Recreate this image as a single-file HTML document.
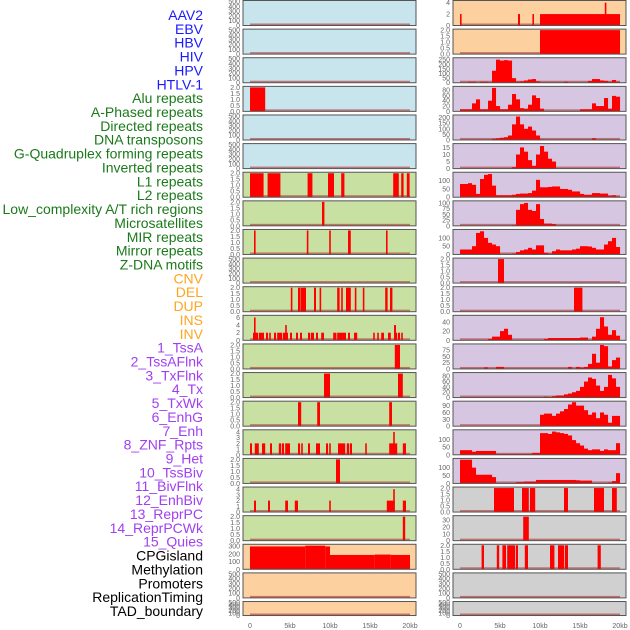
<!DOCTYPE html>
<html><head><meta charset="utf-8"><style>
html,body{margin:0;padding:0;background:#fff;}
svg{display:block;font-family:"Liberation Sans",sans-serif;}
</style></head><body>
<svg id="chart" width="630" height="630" xmlns="http://www.w3.org/2000/svg"></svg>
<script>
const trackNames = ["AAV2","EBV","HBV","HIV","HPV","HTLV-1","Alu repeats","A-Phased repeats","Directed repeats","DNA transposons","G-Quadruplex forming repeats","Inverted repeats","L1 repeats","L2 repeats","Low_complexity A/T rich regions","Microsatellites","MIR repeats","Mirror repeats","Z-DNA motifs","CNV","DEL","DUP","INS","INV","1_TssA","2_TssAFlnk","3_TxFlnk","4_Tx","5_TxWk","6_EnhG","7_Enh","8_ZNF_Rpts","9_Het","10_TssBiv","11_BivFlnk","12_EnhBiv","13_ReprPC","14_ReprPCWk","15_Quies","CPGisland","Methylation","Promoters","ReplicationTiming","TAD_boundary"];
const labelColors = ["#1a1aff","#1a1aff","#1a1aff","#1a1aff","#1a1aff","#1a1aff","#1a7a1a","#1a7a1a","#1a7a1a","#1a7a1a","#1a7a1a","#1a7a1a","#1a7a1a","#1a7a1a","#1a7a1a","#1a7a1a","#1a7a1a","#1a7a1a","#1a7a1a","#ffa520","#ffa520","#ffa520","#ffa520","#ffa520","#a040f0","#a040f0","#a040f0","#a040f0","#a040f0","#a040f0","#a040f0","#a040f0","#a040f0","#a040f0","#a040f0","#a040f0","#a040f0","#a040f0","#a040f0","#000","#000","#000","#000","#000"];
const panelBg = ["#c8e4ec","#c8e4ec","#c8e4ec","#c8e4ec","#c8e4ec","#c8e4ec","#c8e0a2","#c8e0a2","#c8e0a2","#c8e0a2","#c8e0a2","#c8e0a2","#c8e0a2","#c8e0a2","#c8e0a2","#c8e0a2","#c8e0a2","#c8e0a2","#c8e0a2","#fdd0a0","#fdd0a0","#fdd0a0","#fdd0a0","#fdd0a0","#d6c6e2","#d6c6e2","#d6c6e2","#d6c6e2","#d6c6e2","#d6c6e2","#d6c6e2","#d6c6e2","#d6c6e2","#d6c6e2","#d6c6e2","#d6c6e2","#d6c6e2","#d6c6e2","#d6c6e2","#d0d0d0","#d0d0d0","#d0d0d0","#d0d0d0","#d0d0d0"];
const T500 = [0,100,200,300,400,500];
const T2 = [0,0.5,1,1.5,2];
const yMax = [500,500,500,2,500,500,2,2,2,500,2,6.3,2,2,2,4.2,2,4.2,2,310,500,500,4.2,2,260,90,215,17,145,105,145,2,2,52,95,90,105,155,152,2,35,2,500,500];
const yTicks = [T500,T500,T500,T2,T500,T500,T2,T2,T2,T500,T2,[0,2,4,6],T2,T2,T2,[0,1,2,3,4],T2,[0,1,2,3,4],T2,[0,100,200,300],T500,T500,[0,2,4],T2,[0,50,100,150,200,250],[0,20,40,60,80],[0,50,100,150,200],[0,5,10,15],[0,50,100],[0,25,50,75,100],[0,50,100],T2,T2,[0,20,40],[0,25,50,75],[0,20,40,60,80],[0,30,60,90],[0,50,100],[0,50,100],T2,[0,10,20,30],T2,T500,T500];
// segment tracks: [startKb, endKb, value]
const segAlu = [];
const segHIV = [[0,1.9,2]];
const segAluRep = [[0,1.7,2],[2.2,3.8,2],[7.2,7.8,2],[9.75,10.5,2],[11.4,11.8,2],[17.9,18.6,2],[18.9,19.2,2],[19.6,19.95,2]];
const segAPhased = [[9.0,9.3,2]];
const segDirected = [[0.5,0.7,2],[7.1,7.3,2],[9.9,10.1,2],[12.25,12.6,2],[17,17.2,2]];
const segGQuad = [[5.1,5.3,2],[6,6.25,2],[6.3,7.0,2],[8.0,8.25,2],[8.7,8.9,2],[10.9,11.2,2],[11.4,11.6,2],[12,12.6,2],[13.1,13.3,2],[14.1,14.3,2],[16.9,17.2,2],[17.5,17.8,2]];
const segInverted = [[0.375,1.0,2],[0.5,0.7,6],[1.1,1.75,2],[2.0,2.25,2],[2.4,2.6,2],[3.0,3.25,2],[3.4,4.0,2],[4.1,4.75,2],[4.4,4.6,4],[5.0,5.25,2],[5.75,6.0,2],[6.25,6.5,2],[7.25,7.5,2],[7.6,8.0,2],[8.25,8.5,2],[8.9,9.25,2],[10.4,10.8,2],[10.9,12.0,2],[12.25,12.5,2],[13.0,13.4,2],[15.4,15.6,2],[15.9,16.1,2],[16.4,16.75,2],[17.25,17.6,2],[18,18.4,2],[18,18.25,4],[18.5,18.75,2],[18.9,19.1,2]];
const segL1 = [[18.1,18.75,2]];
const segL2 = [[9.25,10.0,2],[18.5,19.1,2]];
const segLowC = [[6.0,6.4,2],[8.4,8.75,2],[17.4,17.75,2]];
const segMicro = [[0,0.25,2],[0.6,1.1,2],[1.5,1.9,2],[2.5,2.75,2],[3.6,3.9,2],[4.0,4.25,2],[4.4,5.0,2],[6.0,6.25,2],[6.4,6.6,2],[7.25,7.5,2],[8.25,8.75,2],[9.5,9.75,2],[9.9,10.1,2],[11,11.9,2],[12.1,12.4,2],[12.5,12.75,2],[14.4,14.6,2],[17.4,18.4,2],[17.9,18.1,4],[19.1,19.5,2]];
const segMIR = [[10.75,11.25,2]];
const segMirror = [[0.5,0.75,2],[2.25,2.5,2],[4.4,4.75,2],[5.6,6.0,2],[9.9,10.1,2],[17.1,18.1,2],[17.9,18.1,4],[19.1,19.5,2]];
const segZDNA = [[19.1,19.4,2]];
const segCNV = [[0,6.9,295],[6.9,9.4,305],[9.4,10,295],[10,15.6,185],[15.6,17.6,190],[17.6,20,185]];
const segINS = [[0,0.2,2],[7.25,7.5,2],[9.05,9.25,2],[10,20,2],[18.1,18.3,4]];
const segINV = [[10,20,2]];
const segZNF = [[4.75,5.5,2]];
const segHet = [[14.25,15.3,2]];
const segCPG = [[4.25,6.75,2],[7.75,8.6,2],[8.75,9.4,2],[13,13.5,2],[16.75,18,2],[19,19.6,2]];
const segMeth = [[7.9,8.6,35]];
const segProm = [[2.7,3.0,2],[4.6,4.9,2],[5.3,5.75,2],[5.9,6.9,2],[7.0,7.25,2],[8.1,8.5,2],[11.25,11.8,2],[12.25,13.0,2],[13.1,13.5,2],[17.2,17.6,2]];
// profile tracks: values per 0.5kb bin (40 bins, 0-20kb)
const profTssA = [2,2,10,10,2,10,10,5,130,250,240,245,240,50,12,15,25,35,40,15,3,3,3,3,3,3,10,2,2,2,2,2,20,40,40,25,20,10,30,10];
const profTssAFlnk = [8,8,8,30,45,8,8,40,88,20,8,8,25,65,45,12,10,25,60,50,10,0,0,0,0,0,0,0,0,0,8,8,8,30,20,20,50,10,58,55];
const profTxFlnk = [0,0,0,0,0,0,0,0,10,15,20,25,40,140,210,140,100,120,85,40,5,0,0,0,0,0,0,0,0,0,0,0,0,15,0,0,0,0,0,0];
const profTx = [0,0,0,0,0,0,0,0,0,0,0,0,0,1,10,15,12,6,2,10,16,12,7,5,0,0,0,0,0,0,0,0,0,0,0,0,0,0,0,0];
const profTxWk = [80,80,85,75,20,110,135,140,70,12,12,12,12,15,20,22,22,25,40,105,60,60,62,65,65,50,50,45,35,35,20,15,15,25,25,22,22,10,12,5];
const profEnhG = [0,0,0,0,0,0,0,0,0,0,0,0,0,3,70,95,100,70,65,95,30,10,10,8,0,0,0,0,0,0,0,0,0,0,0,0,0,0,0,0];
const profEnh = [30,30,30,50,130,140,100,70,60,50,0,0,0,5,15,25,30,40,30,55,55,10,5,20,30,25,25,25,30,35,50,50,48,40,30,30,60,80,100,45];
const profTssBiv = [0,0,0,0,0,0,0,3,8,8,20,25,12,0,0,0,0,0,0,0,0,3,5,5,5,5,5,5,5,5,6,6,0,8,25,50,30,12,22,10];
const profBivFlnk = [0,0,0,0,0,0,6,0,0,8,8,0,0,0,0,0,0,0,0,0,0,0,0,0,0,0,0,8,0,8,5,8,20,60,25,95,90,10,35,45];
const profEnhBiv = [0,0,0,0,0,0,0,0,0,0,0,0,0,0,0,0,0,0,0,0,0,3,2,5,8,8,12,15,20,25,40,60,75,70,45,25,40,85,72,40];
const profReprPC = [0,0,0,0,0,0,0,0,0,0,0,0,0,0,0,0,0,0,0,0,50,55,55,45,55,65,75,95,105,90,90,70,50,60,35,60,50,15,45,45];
const profReprPCWk = [30,30,30,20,25,25,25,25,25,5,5,5,5,5,5,5,5,5,12,12,140,140,135,150,145,140,135,125,95,75,60,40,30,35,35,25,35,30,30,75];
const profQuies = [150,150,150,100,55,55,55,55,40,0,0,0,0,0,8,8,12,12,12,22,22,22,22,22,22,22,22,22,22,20,18,18,18,0,0,0,0,5,15,65];
const trackSegs = [segAlu,segAlu,segAlu,segHIV,segAlu,segAlu,segAluRep,segAPhased,segDirected,segAlu,segGQuad,segInverted,segL1,segL2,segLowC,segMicro,segMIR,segMirror,segZDNA,segCNV,segAlu,segAlu,segINS,segINV,null,null,null,null,null,null,null,segZNF,segHet,null,null,null,null,null,null,segCPG,segMeth,segProm,segAlu,segAlu];
const trackProfs = [null,null,null,null,null,null,null,null,null,null,null,null,null,null,null,null,null,null,null,null,null,null,null,null,profTssA,profTssAFlnk,profTxFlnk,profTx,profTxWk,profEnhG,profEnh,null,null,profTssBiv,profBivFlnk,profEnhBiv,profReprPC,profReprPCWk,profQuies,null,null,null,null,null];
const xTickVals = [0,5,10,15,20];
const xTickLabels = ["0","5kb","10kb","15kb","20kb"];

const NS = "http://www.w3.org/2000/svg";
const svg = document.getElementById("chart");
function mk(tag, attrs, parent) {
  const e = document.createElementNS(NS, tag);
  for (const k in attrs) e.setAttribute(k, attrs[k]);
  (parent || svg).appendChild(e);
  return e;
}
function slug(s){return s.toLowerCase().replace(/[^a-z0-9]+/g,"-").replace(/^-|-$/g,"");}

// labels
trackNames.forEach((n, k) => {
  const t = mk("text", {x: 203, y: 15 + k * 13.86 + 5, "text-anchor": "end", "font-size": 14, fill: labelColors[k]});
  t.textContent = n;
  
  
});

function panelGeom(k) {
  const col = k < 22 ? 0 : 1;
  const row = k % 22;
  const top = 0.5 + row * 28.62;
  const h = row === 21 ? 14 : 25;
  const px = col === 0 ? 243 : 453;
  const zero = col === 0 ? 250 : 460;
  return {top, h, px, w: 173, zero};
}

trackNames.forEach((n, k) => {
  const g = panelGeom(k);
  const grp = mk("g", {});
  
  
  const bg = mk("rect", {x: g.px, y: g.top, width: g.w, height: g.h, fill: panelBg[k]}, grp);
  
  
  const bottom = g.top + g.h;
  const xs = kb => g.zero + kb * 8;
  const ys = v => bottom - (v / yMax[k]) * (g.h - 1);
  // baseline
  const bl = mk("rect", {x: xs(0), y: bottom - 2, width: 160, height: 1.6, fill: "#b03030", opacity: 0.6}, grp);
  
  
  const segs = trackSegs[k];
  if (segs) segs.forEach(s => {
    const x0 = xs(s[0]), x1 = xs(s[1]);
    const r = mk("rect", {x: x0, y: ys(s[2]), width: Math.max(1.5, x1 - x0), height: bottom - ys(s[2]), fill: "#ff0000"}, grp);
    
    
  });
  const prof = trackProfs[k];
  if (prof) prof.forEach((v, i) => {
    if (v <= 0) return;
    const r = mk("rect", {x: xs(i * 0.5), y: ys(v), width: 4.05, height: bottom - ys(v), fill: "#ff0000"}, grp);
    
    
  });
  const bd = mk("rect", {x: g.px, y: g.top, width: g.w, height: g.h, fill: "none", stroke: "#555", "stroke-width": 1}, grp);
  
  
  // ticks
  yTicks[k].forEach(tv => {
    const lab = mk("text", {x: g.px - 3, y: ys(tv) + 2.5, "text-anchor": "end", "font-size": 7, fill: "#666"}, grp);
    const dec = yTicks[k] === T2;
    lab.textContent = dec ? tv.toFixed(1) : String(tv);
    
    
  });
});

[0, 1].forEach(col => {
  const zero = col === 0 ? 250 : 460;
  xTickVals.forEach((v, i) => {
    const t = mk("text", {x: zero + v * 8, y: 628, "text-anchor": "middle", "font-size": 7, fill: "#666"});
    t.textContent = xTickLabels[i];
    
    
  });
});
</script>
</body></html>
